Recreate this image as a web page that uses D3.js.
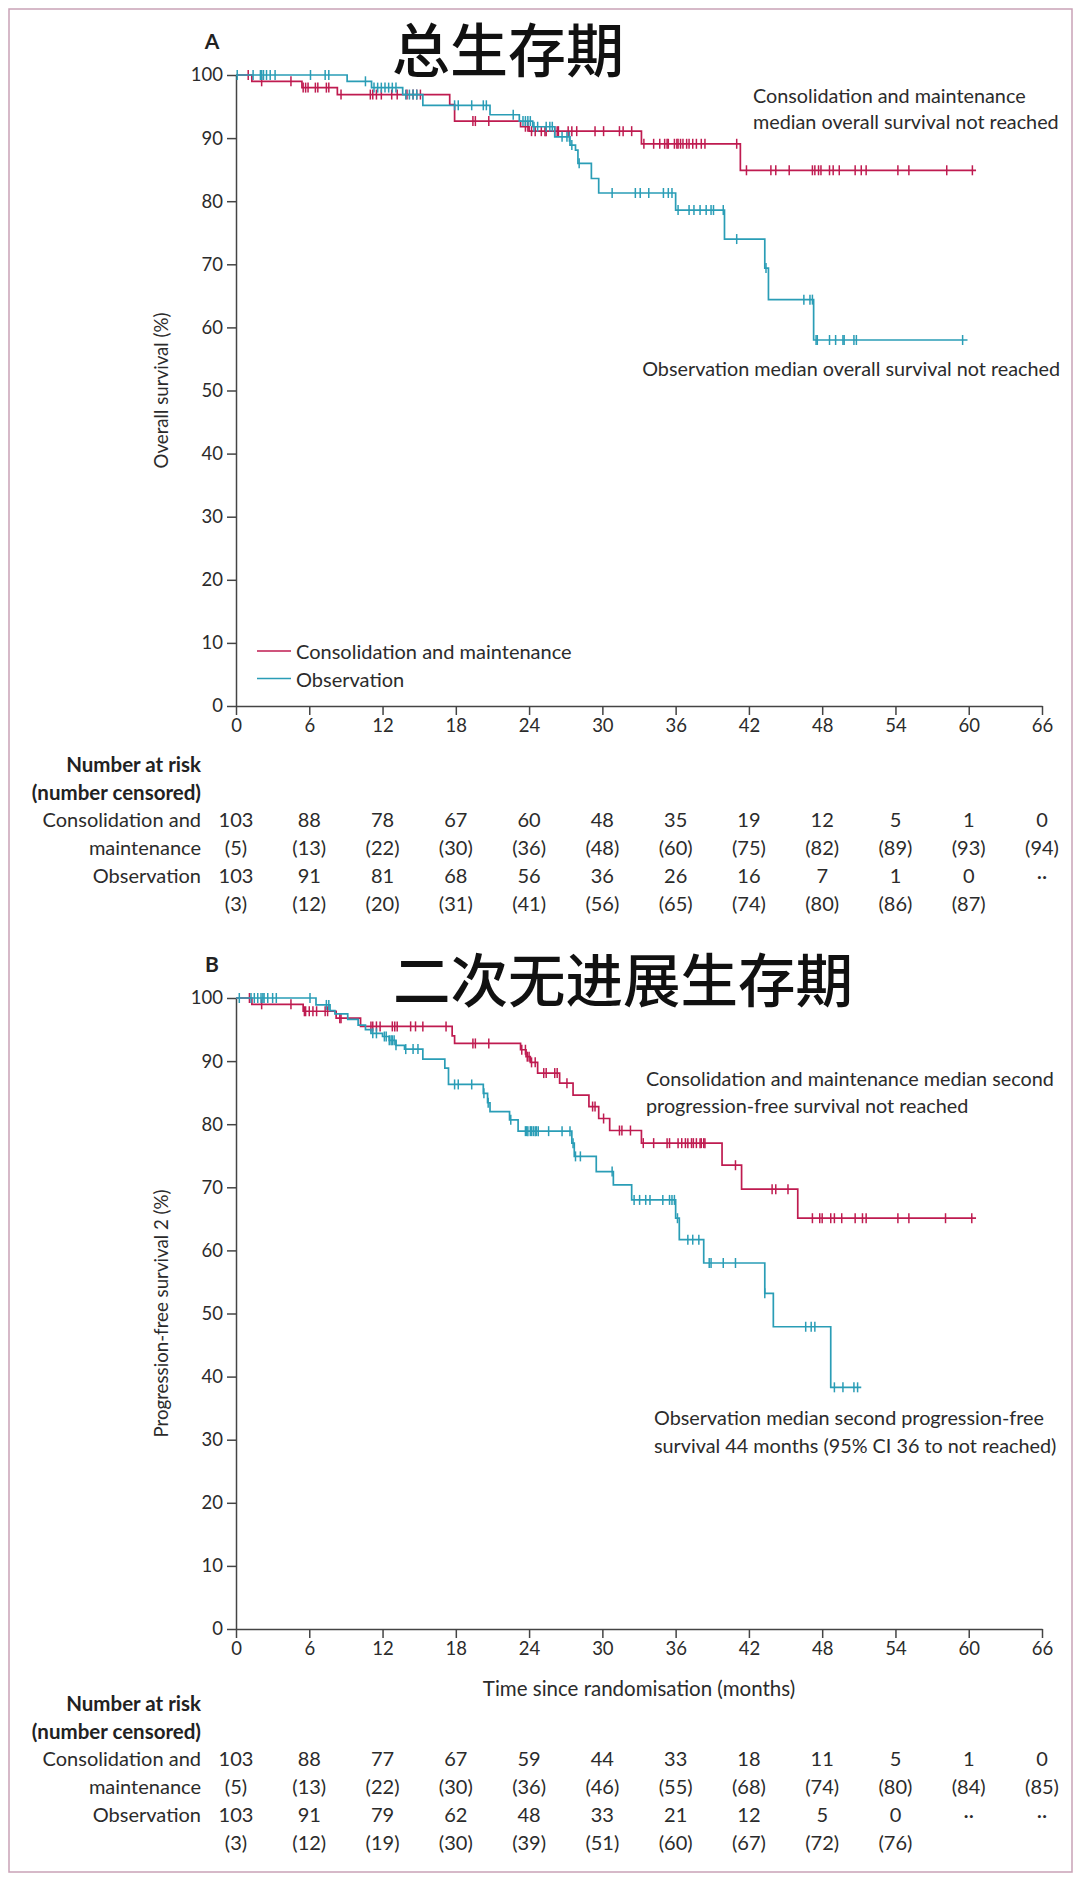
<!DOCTYPE html>
<html><head><meta charset="utf-8">
<script src="https://cdn.jsdelivr.net/npm/d3@7"></script>
<style>
body{margin:0;background:#fff}
svg text{font-family:Lato,"Open Sans",sans-serif;fill:#2b2b2b}
</style>
</head><body>
<svg id="chart" width="1080" height="1879"></svg>
<script>
// ---------- shared ----------
const monthTicks = [0,6,12,18,24,30,36,42,48,54,60,66];
const yTicks = [0,10,20,30,40,50,60,70,80,90,100];
const seriesNames = ["Consolidation and maintenance","Observation"];
const colors = {cm:"#bf1b50", obs:"#2a9db6"};

// ---------- Panel A: overall survival ----------
const osCmSteps = [[0,100],[1.3,99.0],[5.4,98.0],[8.3,96.9],[17.5,95.3],[17.9,92.7],[23.3,91.8],[24.0,91.1],[33.2,89.1],[41.3,84.9],[60.6,84.9]];
const osCmCensor = [1.0,2.1,4.5,5.5,5.7,5.9,6.5,6.7,7.4,7.6,8.6,11.0,11.2,11.5,11.9,12.75,13.2,14.0,14.5,14.8,15.1,19.4,19.6,20.7,23.7,23.9,24.2,24.5,25.0,25.3,25.4,26.1,26.3,26.4,27.2,27.5,27.9,29.4,30.1,31.4,31.7,32.4,33.4,34.2,34.7,35.1,35.3,35.4,35.9,36.1,36.2,36.4,36.6,36.9,37.1,37.4,37.7,38.1,38.4,41.0,41.8,43.8,44.2,45.3,47.2,47.4,47.7,47.9,48.6,48.9,49.4,50.7,51.2,51.6,54.2,55.1,58.2,60.3];
const osObsSteps = [[0,100],[9.1,99.0],[11.1,98.0],[13.65,96.9],[15.3,95.2],[20.8,93.7],[23.2,92.7],[24.3,91.8],[26.1,90.2],[27.35,88.9],[27.8,88.1],[28.0,86.0],[29.1,83.6],[29.7,81.3],[36.0,78.6],[40.0,74.0],[43.3,69.4],[43.6,64.4],[47.3,58.0],[59.9,58.0]];
const osObsCensor = [0.1,1.4,2.0,2.1,2.25,2.5,2.8,3.2,6.1,7.3,7.6,10.6,11.3,11.6,11.9,12.2,12.5,12.8,13.1,13.9,14.2,14.5,14.8,17.9,18.2,19.3,20.25,20.5,22.7,23.5,23.7,23.9,24.1,24.4,24.7,25.4,25.7,25.9,26.7,27.1,27.3,27.5,28.1,30.8,32.7,33.1,33.8,35.0,35.4,35.7,36.2,37.1,37.5,38.0,38.5,38.9,39.1,39.9,41.0,43.4,46.5,47.0,47.2,47.5,47.6,48.6,49.1,49.7,49.8,50.6,50.8,59.5];
const osCmRisk = ["103","88","78","67","60","48","35","19","12","5","1","0"];
const osCmCens = ["(5)","(13)","(22)","(30)","(36)","(48)","(60)","(75)","(82)","(89)","(93)","(94)"];
const osObsRisk = ["103","91","81","68","56","36","26","16","7","1","0","··"];
const osObsCens = ["(3)","(12)","(20)","(31)","(41)","(56)","(65)","(74)","(80)","(86)","(87)",""];

// ---------- Panel B: progression-free survival 2 ----------
const pfsCmSteps = [[0,100],[1.3,99.0],[5.5,97.9],[8.2,96.8],[10.2,95.5],[17.7,94.0],[17.9,92.8],[23.3,91.8],[23.75,90.7],[24.1,89.8],[24.7,88.1],[26.5,86.5],[27.6,84.6],[28.9,82.8],[29.7,80.9],[30.6,79.0],[33.2,77.0],[39.8,73.5],[41.4,69.7],[46.0,65.1],[60.6,65.1]];
const pfsCmCensor = [1.1,2.1,4.5,5.6,5.7,6.0,6.3,6.6,7.3,7.5,8.5,8.6,11.05,11.2,11.5,11.8,12.8,13.0,13.2,14.3,14.7,15.3,17.2,19.4,19.6,20.7,23.4,23.7,23.85,24.0,24.2,24.5,25.2,25.4,26.1,26.3,27.1,29.2,29.4,30.1,31.4,31.6,32.3,33.35,34.2,35.3,35.5,36.2,36.5,36.8,37.0,37.3,37.45,37.7,38.0,38.1,38.3,38.4,40.9,43.9,44.2,45.2,47.2,47.8,48.0,48.7,49.0,49.6,50.7,51.3,51.6,54.2,55.1,58.1,60.25];
const pfsObsSteps = [[0,100],[6.55,98.9],[7.7,98.0],[8.1,97.5],[9.15,96.6],[10.0,95.7],[10.6,95.0],[11.05,94.4],[12.0,93.9],[12.55,93.3],[13.1,92.5],[13.8,91.9],[15.3,90.3],[17.1,88.9],[17.4,86.3],[20.25,84.9],[20.6,83.4],[20.8,82.0],[22.4,80.7],[23.1,78.9],[27.5,77.0],[27.7,74.9],[29.5,72.5],[30.9,70.4],[32.4,68.0],[36.0,65.1],[36.3,61.7],[38.3,58.0],[43.3,53.2],[44.0,47.9],[48.7,38.3],[51.2,38.3]];
const pfsObsCensor = [0.27,1.23,1.5,1.78,2.05,2.2,2.3,2.6,3.0,3.3,6.06,7.4,7.6,11.2,11.5,12.15,12.3,12.55,12.7,12.8,12.95,13.1,13.9,14.5,14.9,17.9,18.2,19.3,20.3,20.65,22.5,23.7,23.8,23.9,24.1,24.2,24.35,24.5,24.6,24.75,25.6,26.7,27.35,27.6,27.8,28.2,30.8,32.6,33.05,33.55,33.9,34.95,35.5,35.7,35.9,36.15,37.0,37.4,37.9,38.75,38.9,39.9,40.9,43.3,46.65,47.1,47.4,49.0,49.7,50.6,50.9];
const pfsCmRisk = ["103","88","77","67","59","44","33","18","11","5","1","0"];
const pfsCmCens = ["(5)","(13)","(22)","(30)","(36)","(46)","(55)","(68)","(74)","(80)","(84)","(85)"];
const pfsObsRisk = ["103","91","79","62","48","33","21","12","5","0","··","··"];
const pfsObsCens = ["(3)","(12)","(19)","(30)","(39)","(51)","(60)","(67)","(72)","(76)","",""];

const riskRowLabels = ["Consolidation and","maintenance","Observation",""];

// ---------- drawing ----------
const svg = d3.select("#chart");
svg.append("rect").attr("x",9).attr("y",9).attr("width",1063).attr("height",1863)
  .attr("fill","none").attr("stroke","#c9a2b7").attr("stroke-width",1.5);

const x = d3.scaleLinear().domain([0,66]).range([236,1042]);

function stepAt(steps,t){let v=steps[0][1];for(const s of steps){if(s[0]<=t)v=s[1];else break;}return v;}

const NOTE = "19.8px", RISK = "20px";

function panel(opt){
  const y = d3.scaleLinear().domain([0,100]).range([opt.y0,opt.y100]);
  const g = svg.append("g");
  g.append("text").attr("x",212).attr("y",opt.y100-35).attr("text-anchor","middle")
    .attr("dominant-baseline","central").style("font-size","21px").style("font-weight","700")
    .style("fill","#222").text(opt.letter);
  g.append("text").attr("x",opt.titleX).attr("y",opt.titleY).attr("text-anchor","middle")
    .attr("dominant-baseline","central")
    .style("font-family","'Noto Sans CJK SC',sans-serif").style("font-size",opt.titleSize)
    .style("font-weight","500").style("fill","#111").text(opt.title);
  const ya = g.append("g").attr("transform",`translate(${x(0)},0)`)
    .call(d3.axisLeft(y).tickValues(yTicks).tickSize(9).tickSizeOuter(0).tickPadding(4));
  const xa = g.append("g").attr("transform",`translate(0,${y(0)})`)
    .call(d3.axisBottom(x).tickValues(monthTicks).tickSize(9).tickSizeOuter(0).tickPadding(4));
  [ya,xa].forEach(a=>{
    a.selectAll("path,line").attr("stroke","#444").attr("stroke-width",1.5);
    a.selectAll("text").style("font-size","18.5px").style("fill","#2b2b2b").style("font-family","Lato,sans-serif");
  });
  g.append("text").attr("transform",`translate(161,${(opt.y0+opt.y100)/2}) rotate(-90)`)
    .attr("text-anchor","middle").attr("dominant-baseline","central")
    .style("font-size","18.7px").text(opt.yLabel);
  const line = d3.line().x(d=>x(d[0])).y(d=>y(d[1])).curve(d3.curveStepAfter);
  opt.series.forEach(s=>{
    g.append("path").datum(s.steps).attr("d",line).attr("fill","none")
      .attr("stroke",s.color).attr("stroke-width",1.7);
    g.selectAll(null).data(s.censor).enter().append("line")
      .attr("x1",d=>x(d)).attr("x2",d=>x(d))
      .attr("y1",d=>y(stepAt(s.steps,d))-5).attr("y2",d=>y(stepAt(s.steps,d))+5)
      .attr("stroke",s.color).attr("stroke-width",1.5);
  });
  opt.notes.forEach(n=>{
    g.append("text").attr("x",n.x).attr("y",n.y).attr("text-anchor",n.anchor||"start")
      .attr("dominant-baseline","central").style("font-size",NOTE).text(n.t);
  });
  const r0 = opt.riskY, dr = 27.7;
  g.append("text").attr("x",201).attr("y",r0).attr("text-anchor","end").attr("dominant-baseline","central")
    .style("font-size","20.5px").style("font-weight","700").style("fill","#222").text("Number at risk");
  g.append("text").attr("x",201).attr("y",r0+dr).attr("text-anchor","end").attr("dominant-baseline","central")
    .style("font-size","20.5px").style("font-weight","700").style("fill","#222").text("(number censored)");
  riskRowLabels.forEach((l,i)=>{
    g.append("text").attr("x",201).attr("y",r0+dr*(i+2)).attr("text-anchor","end")
      .attr("dominant-baseline","central").style("font-size",RISK).text(l);
  });
  opt.rows.forEach((row,i)=>{
    g.selectAll(null).data(row).enter().append("text")
      .attr("x",(d,j)=>x(monthTicks[j])).attr("y",r0+dr*(i+2)).attr("text-anchor","middle")
      .attr("dominant-baseline","central").style("font-size",RISK).text(d=>d);
  });
  return {g,y};
}

const pA = panel({letter:"A", title:"总生存期", titleX:508, titleY:47, titleSize:"58px", y0:706, y100:75,
  yLabel:"Overall survival (%)",
  series:[{steps:osCmSteps,censor:osCmCensor,color:colors.cm},{steps:osObsSteps,censor:osObsCensor,color:colors.obs}],
  notes:[{x:753,y:95,t:"Consolidation and maintenance"},{x:753,y:121,t:"median overall survival not reached"},
         {x:1060,y:368,t:"Observation median overall survival not reached",anchor:"end"}],
  riskY:764, rows:[osCmRisk,osCmCens,osObsRisk,osObsCens]});
[[seriesNames[0],colors.cm,651],[seriesNames[1],colors.obs,678.5]].forEach(([t,c,yy])=>{
  pA.g.append("line").attr("x1",257).attr("x2",291).attr("y1",yy).attr("y2",yy).attr("stroke",c).attr("stroke-width",1.7);
  pA.g.append("text").attr("x",296).attr("y",yy).attr("dominant-baseline","central").style("font-size","20px").text(t);
});

const pB = panel({letter:"B", title:"二次无进展生存期", titleX:623, titleY:977, titleSize:"57.5px", y0:1629, y100:998,
  yLabel:"Progression-free survival 2 (%)",
  series:[{steps:pfsCmSteps,censor:pfsCmCensor,color:colors.cm},{steps:pfsObsSteps,censor:pfsObsCensor,color:colors.obs}],
  notes:[{x:646,y:1078,t:"Consolidation and maintenance median second"},{x:646,y:1105,t:"progression-free survival not reached"},
         {x:654,y:1417,t:"Observation median second progression-free"},{x:654,y:1445,t:"survival 44 months (95% CI 36 to not reached)"}],
  riskY:1703, rows:[pfsCmRisk,pfsCmCens,pfsObsRisk,pfsObsCens]});
pB.g.append("text").attr("x",(x(0)+x(66))/2).attr("y",1688).attr("text-anchor","middle")
  .attr("dominant-baseline","central").style("font-size","20.5px").text("Time since randomisation (months)");
</script>
</body></html>
